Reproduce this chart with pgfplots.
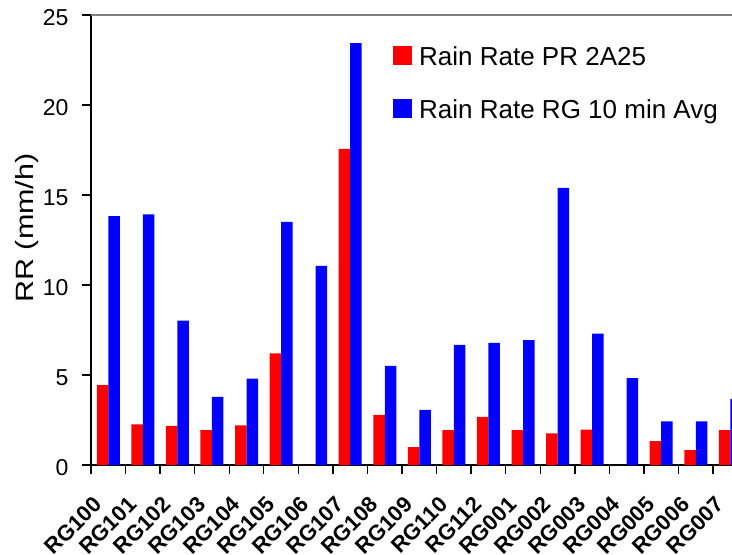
\documentclass[border=0pt]{standalone}
\usepackage{pgfplots}
\pgfplotsset{compat=1.18}
\usepackage{fontspec}
\setmainfont{Liberation Sans}
\newfontfamily\ylabfont[FakeStretch=1.22]{Liberation Sans}
\pgfplotsset{sqleg/.style={legend image code/.code={\fill[##1] (0bp,-9bp) rectangle (19bp,10bp);}}}
\begin{document}
\begin{tikzpicture}
\useasboundingbox (-91bp,-90bp) rectangle (641bp,465bp);
\clip (-91bp,-90bp) rectangle (641bp,465bp);
\begin{axis}[
 at={(0,0)}, anchor=south west,
 scale only axis, width=650bp, height=450bp,
 xmin=-0.5, xmax=18.308, ymin=0, ymax=25,
 axis x line*=bottom, axis y line*=left,
 axis line style={-, line width=1.6bp, black},
 ybar=0pt, bar width=11.5bp,
 xtick={0,...,18},
 xticklabels={RG100,RG101,RG102,RG103,RG104,RG105,RG106,RG107,RG108,RG109,RG110,RG112,RG001,RG002,RG003,RG004,RG005,RG006,RG007},
 x tick style={draw=none},
 extra x ticks={-0.5,0.5,...,17.5},
 extra x tick labels={},
 extra x tick style={x tick style={draw=black, line width=1.4bp}},
 ytick={0,5,...,25},
 tick align=outside, major tick length=9bp,
 y tick style={line width=1.4bp, black},
 /pgf/number format/assume math mode=true,
 yticklabel style={font=\fontsize{23bp}{26bp}\selectfont, xshift=-10bp, yshift=-3bp},
 xticklabel style={font=\bfseries\fontsize{22bp}{24bp}\selectfont, xshift=-16bp, yshift=-21bp, rotate=45, anchor=north east, inner sep=0pt},
 every axis y label/.style={at={(rel axis cs:0,0.5)}, xshift=-64bp, yshift=12bp, rotate=90, anchor=center, font=\ylabfont\fontsize{25bp}{28bp}\selectfont},
 ylabel={RR (mm/h)},
 legend style={draw=none, fill=none, at={(rel axis cs:0.4646,1)}, yshift=-31bp, anchor=north west, inner sep=0pt, row sep=33bp, column sep=7bp, font=\fontsize{26bp}{30bp}\selectfont, nodes={inner sep=0pt, text height=19bp, text depth=0bp}},
 legend cell align=left,
]
\addplot[fill={rgb,255:red,255;green,0;blue,0}, draw=none, sqleg] coordinates {
(0,4.44) (1,2.26) (2,2.17) (3,1.94) (4,2.2) (5,6.2) (6,0) (7,17.56) (8,2.78) (9,1.0) (10,1.94) (11,2.67) (12,1.94) (13,1.76) (14,1.96) (15,0) (16,1.33) (17,0.82) (18,1.94)};
\addlegendentry{Rain Rate PR 2A25}
\addplot[fill={rgb,255:red,0;green,0;blue,255}, draw=none, sqleg] coordinates {
(0,13.83) (1,13.93) (2,8.02) (3,3.78) (4,4.8) (5,13.5) (6,11.06) (7,23.44) (8,5.5) (9,3.06) (10,6.67) (11,6.78) (12,6.94) (13,15.39) (14,7.3) (15,4.82) (16,2.43) (17,2.43) (18,3.67)};
\addlegendentry{Rain Rate RG 10 min Avg}
\draw[gray, line width=1.3bp] (rel axis cs:0,1) -- (rel axis cs:1,1);
\end{axis}
\end{tikzpicture}
\end{document}
